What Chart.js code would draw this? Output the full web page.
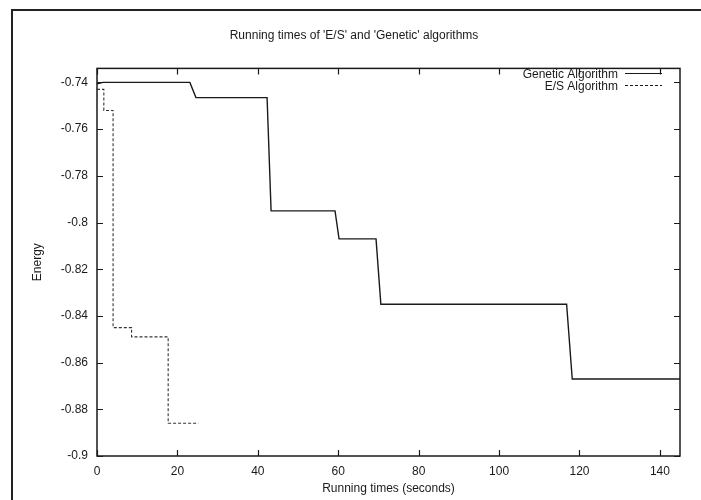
<!DOCTYPE html>
<html>
<head>
<meta charset="utf-8">
<script src="https://cdn.jsdelivr.net/npm/chart.js@4.4.0/dist/chart.umd.min.js"></script>
<style>
  html, body { margin: 0; padding: 0; background: #fff; }
  #wrap { width: 701px; height: 500px; position: relative; }
</style>
</head>
<body>
<div id="wrap"><canvas id="c" width="701" height="500"></canvas></div>
<script>
const chartTitle = "Running times of 'E/S' and 'Genetic' algorithms";
const xAxisTitle = "Running times (seconds)";
const yAxisTitle = "Energy";
const seriesNames = ["Genetic Algorithm", "E/S Algorithm"];

const geneticTimes  = [0, 1.5, 23.1, 24.6, 42.3, 43.3, 59.2, 60.2, 69.4, 70.6, 116.8, 118.2, 145];
const geneticEnergy = [-0.7406, -0.74, -0.74, -0.7465, -0.7465, -0.795, -0.795, -0.807, -0.807, -0.835, -0.835, -0.867, -0.867];

const esTimes  = [0, 1.7, 1.7, 4.0, 4.0, 8.6, 8.6, 17.7, 17.7, 25.2];
const esEnergy = [-0.743, -0.743, -0.752, -0.752, -0.845, -0.845, -0.849, -0.849, -0.886, -0.886];

const xTicks = [0, 20, 40, 60, 80, 100, 120, 140];
const yTicks = [-0.9, -0.88, -0.86, -0.84, -0.82, -0.8, -0.78, -0.76, -0.74];
const xRange = [0, 145];
const yRange = [-0.9, -0.734];

const FONT = "'Liberation Sans', Arial, Helvetica, sans-serif";
const INK = '#1a1a1a';

function pts(xs, ys) { return xs.map((x, i) => ({ x: x, y: ys[i] })); }

const decor = {
  id: 'decor',
  beforeDraw(chart) {
    const ctx = chart.ctx;
    ctx.save();
    ctx.fillStyle = '#fff';
    ctx.fillRect(0, 0, chart.width, chart.height);
    ctx.strokeStyle = '#222';
    ctx.lineWidth = 2;
    ctx.beginPath();
    ctx.moveTo(12, 500); ctx.lineTo(12, 10); ctx.lineTo(701, 10);
    ctx.stroke();
    ctx.restore();
  },
  afterDraw(chart) {
    const ctx = chart.ctx;
    const a = chart.chartArea;
    const xs = chart.scales.x, ys = chart.scales.y;
    ctx.save();
    ctx.strokeStyle = INK;
    ctx.lineWidth = 1.5;
    ctx.strokeRect(a.left, a.top, a.right - a.left, a.bottom - a.top);
    ctx.lineWidth = 1.2;
    ctx.beginPath();
    xTicks.forEach(v => {
      const p = Math.round(xs.getPixelForValue(v)) + 0.5;
      ctx.moveTo(p, a.bottom); ctx.lineTo(p, a.bottom - 6);
      ctx.moveTo(p, a.top); ctx.lineTo(p, a.top + 6);
    });
    yTicks.forEach(v => {
      const p = Math.round(ys.getPixelForValue(v)) + 0.5;
      ctx.moveTo(a.left, p); ctx.lineTo(a.left + 6, p);
      ctx.moveTo(a.right, p); ctx.lineTo(a.right - 6, p);
    });
    ctx.stroke();
    // legend
    ctx.font = '12px ' + FONT;
    ctx.fillStyle = INK;
    ctx.textAlign = 'right';
    ctx.textBaseline = 'middle';
    const ly = [75, 87];
    const styles = [[], [3, 2]];
    const widths = [1.2, 1];
    seriesNames.forEach((n, i) => {
      ctx.fillText(n, 618, ly[i]);
      ctx.beginPath();
      ctx.setLineDash(styles[i]);
      ctx.lineWidth = widths[i];
      ctx.moveTo(625, ly[i] - 1.5); ctx.lineTo(662, ly[i] - 1.5);
      ctx.stroke();
    });
    ctx.setLineDash([]);
    ctx.restore();
  }
};

new Chart(document.getElementById('c'), {
  type: 'line',
  data: {
    datasets: [
      { label: seriesNames[0], data: pts(geneticTimes, geneticEnergy), borderColor: INK, borderWidth: 1.4,
        pointRadius: 0, tension: 0, fill: false },
      { label: seriesNames[1], data: pts(esTimes, esEnergy), borderColor: '#333', borderWidth: 1.1,
        borderDash: [3, 2], pointRadius: 0, tension: 0, fill: false }
    ]
  },
  options: {
    responsive: false,
    animation: false,
    events: [],
    layout: { padding: { left: 28, right: 21, top: 0, bottom: 0 } },
    plugins: {
      legend: { display: false },
      tooltip: { enabled: false },
      title: {
        display: true, text: chartTitle, color: INK,
        font: { family: FONT, size: 12, weight: 'normal' },
        padding: { top: 28, bottom: 26 }
      }
    },
    scales: {
      x: {
        type: 'linear', min: xRange[0], max: xRange[1],
        afterBuildTicks: s => { s.ticks = xTicks.map(v => ({ value: v })); },
        afterFit: s => { s.height = 44; },
        grid: { display: false, drawTicks: false },
        border: { display: false },
        ticks: { color: INK, font: { family: FONT, size: 12 }, padding: 8, maxRotation: 0,
          callback: v => String(v) },
        title: { display: true, text: xAxisTitle, color: INK, font: { family: FONT, size: 12 },
          padding: { top: 0, bottom: 4 } }
      },
      y: {
        type: 'linear', min: yRange[0], max: yRange[1],
        afterBuildTicks: s => { s.ticks = yTicks.map(v => ({ value: v })); },
        afterFit: s => { s.width = 69; },
        grid: { display: false, drawTicks: false },
        border: { display: false },
        ticks: { color: INK, font: { family: FONT, size: 12 }, padding: 9,
          callback: v => String(parseFloat(Number(v).toFixed(3))) },
        title: { display: true, text: yAxisTitle, color: INK, font: { family: FONT, size: 12 },
          padding: { top: 2, bottom: 0 } }
      }
    }
  },
  plugins: [decor]
});
</script>
</body>
</html>
